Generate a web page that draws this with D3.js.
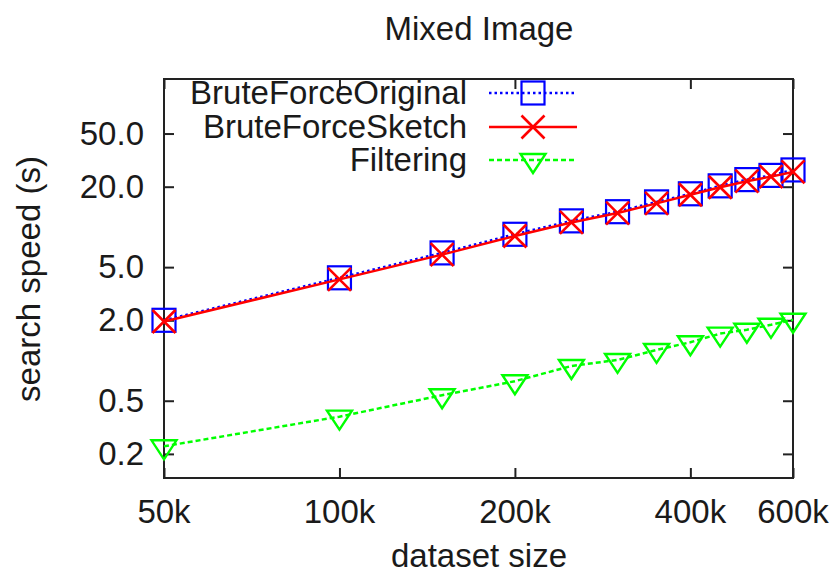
<!DOCTYPE html>
<html lang="en">
  <head>
    <meta charset="utf-8">
    <script type="text/javascript" src="https://cdn.jsdelivr.net/npm/d3@7/dist/d3.min.js"></script>
    <style>
      body { margin: 0; background: #fff; }
      text { font-family: "Liberation Sans", Arial, sans-serif; fill: #1a1a1a; font-size: 33px; }
    </style>
  </head>
  <body>
    <svg id="chart"></svg>
  </body>
  <script type="text/javascript">

    // dataset sizes and search times (s)
    var sizes = [50000, 100000, 150000, 200000, 250000, 300000, 350000, 400000, 450000, 500000, 550000, 600000];
    var bruteOriginal = [2.0, 4.16, 6.39, 8.81, 11.1, 13.0, 15.4, 17.7, 20.3, 22.6, 24.3, 26.7];
    var bruteSketch = [1.96, 4.05, 6.2, 8.55, 10.8, 12.7, 15.0, 17.4, 19.8, 22.0, 23.8, 25.8];
    var filtering = [0.228, 0.38, 0.55, 0.70, 0.91, 1.01, 1.20, 1.37, 1.59, 1.70, 1.85, 2.02];

    var xTicks = [50000, 100000, 200000, 400000, 600000];
    var xTickLabels = ['50k', '100k', '200k', '400k', '600k'];
    var yTicks = [0.2, 0.5, 2.0, 5.0, 20.0, 50.0];
    var yTickLabels = ['0.2', '0.5', '2.0', '5.0', '20.0', '50.0'];

    var series = [
      {name: 'BruteForceOriginal', values: bruteOriginal, color: '#0000ff', dash: '2.5,3', width: 2.5, marker: 'square'},
      {name: 'BruteForceSketch', values: bruteSketch, color: '#ff0000', dash: null, width: 2.5, marker: 'cross'},
      {name: 'Filtering', values: filtering, color: '#00ff00', dash: '5,3', width: 2.5, marker: 'triangle'}
    ];

    var width = 836;
    var height = 574;
    var plotL = 164, plotR = 793, plotT = 79, plotB = 478;

    var svg = d3.select('#chart')
      .attr('width', width)
      .attr('height', height);

    var x = d3.scaleLog().domain([50000, 600000]).range([plotL, plotR]);
    var y = d3.scaleLog().domain([0.132, 128]).range([plotB, plotT]);

    // ticks, drawn inward on all four sides
    var tickLen = 10;
    var axisColor = '#222';

    svg.append('g')
      .attr('transform', 'translate(0,' + plotB + ')')
      .call(d3.axisBottom(x).tickValues(xTicks).tickSizeInner(-tickLen).tickSizeOuter(0).tickFormat(''))
      .call(function(g){ g.select('.domain').remove(); })
      .selectAll('line').attr('stroke', axisColor).attr('stroke-width', 2);

    svg.append('g')
      .attr('transform', 'translate(0,' + plotT + ')')
      .call(d3.axisTop(x).tickValues(xTicks).tickSizeInner(-tickLen).tickSizeOuter(0).tickFormat(''))
      .call(function(g){ g.select('.domain').remove(); })
      .selectAll('line').attr('stroke', axisColor).attr('stroke-width', 2);

    svg.append('g')
      .attr('transform', 'translate(' + plotL + ',0)')
      .call(d3.axisLeft(y).tickValues(yTicks).tickSizeInner(-tickLen).tickSizeOuter(0).tickFormat(''))
      .call(function(g){ g.select('.domain').remove(); })
      .selectAll('line').attr('stroke', axisColor).attr('stroke-width', 2);

    svg.append('g')
      .attr('transform', 'translate(' + plotR + ',0)')
      .call(d3.axisRight(y).tickValues(yTicks).tickSizeInner(-tickLen).tickSizeOuter(0).tickFormat(''))
      .call(function(g){ g.select('.domain').remove(); })
      .selectAll('line').attr('stroke', axisColor).attr('stroke-width', 2);

    // frame
    svg.append('rect')
      .attr('x', plotL)
      .attr('y', plotT)
      .attr('width', plotR - plotL)
      .attr('height', plotB - plotT)
      .attr('fill', 'none')
      .attr('stroke', axisColor)
      .attr('stroke-width', 2);

    // tick labels
    svg.selectAll('text.xt')
      .data(xTicks).enter()
      .append('text')
      .attr('class', 'xt')
      .attr('x', function(d){ return x(d); })
      .attr('y', 523)
      .attr('text-anchor', 'middle')
      .text(function(d, i){ return xTickLabels[i]; });

    svg.selectAll('text.yt')
      .data(yTicks).enter()
      .append('text')
      .attr('class', 'yt')
      .attr('x', 144)
      .attr('y', function(d){ return y(d) + 11; })
      .attr('text-anchor', 'end')
      .text(function(d, i){ return yTickLabels[i]; });

    // titles
    svg.append('text')
      .attr('x', 479)
      .attr('y', 40)
      .attr('text-anchor', 'middle')
      .text('Mixed Image');

    svg.append('text')
      .attr('x', 479)
      .attr('y', 567)
      .attr('text-anchor', 'middle')
      .text('dataset size');

    svg.append('text')
      .attr('transform', 'translate(40,279) rotate(-90)')
      .attr('text-anchor', 'middle')
      .text('search speed (s)');

    var drawMarker = function(g, kind, color){
      if (kind === 'square') {
        g.append('rect')
          .attr('x', -11.5).attr('y', -11.5)
          .attr('width', 23).attr('height', 23)
          .attr('fill', 'none').attr('stroke', color).attr('stroke-width', 2.2);
      } else if (kind === 'cross') {
        g.append('path')
          .attr('d', 'M-11.5,-11.5L11.5,11.5M-11.5,11.5L11.5,-11.5')
          .attr('stroke', color).attr('stroke-width', 2.6);
      } else {
        g.append('path')
          .attr('d', 'M-12.5,-6L12.5,-6L0,13Z')
          .attr('fill', 'none').attr('stroke', color).attr('stroke-width', 2.4);
      }
    };

    var line = d3.line()
      .x(function(d){ return x(d.size); })
      .y(function(d){ return y(d.value); });

    series.forEach(function(s){
      var pts = sizes.map(function(sz, i){ return {size: sz, value: s.values[i]}; });

      svg.append('path')
        .datum(pts)
        .attr('d', line)
        .attr('fill', 'none')
        .attr('stroke', s.color)
        .attr('stroke-width', s.width)
        .attr('stroke-dasharray', s.dash);

      svg.selectAll('g.m-' + s.marker)
        .data(pts).enter()
        .append('g')
        .attr('class', 'm-' + s.marker)
        .attr('transform', function(d){ return 'translate(' + x(d.size) + ',' + y(d.value) + ')'; })
        .each(function(){ drawMarker(d3.select(this), s.marker, s.color); });
    });

    // legend
    var legendY = [93, 127, 160];
    series.forEach(function(s, i){
      svg.append('text')
        .attr('x', 467)
        .attr('y', legendY[i] + 11)
        .attr('text-anchor', 'end')
        .text(s.name);

      svg.append('line')
        .attr('x1', 489).attr('x2', 577)
        .attr('y1', legendY[i]).attr('y2', legendY[i])
        .attr('stroke', s.color)
        .attr('stroke-width', s.width)
        .attr('stroke-dasharray', s.dash);

      var mg = svg.append('g').attr('transform', 'translate(533,' + legendY[i] + ')');
      drawMarker(mg, s.marker, s.color);
    });

  </script>
</html>
